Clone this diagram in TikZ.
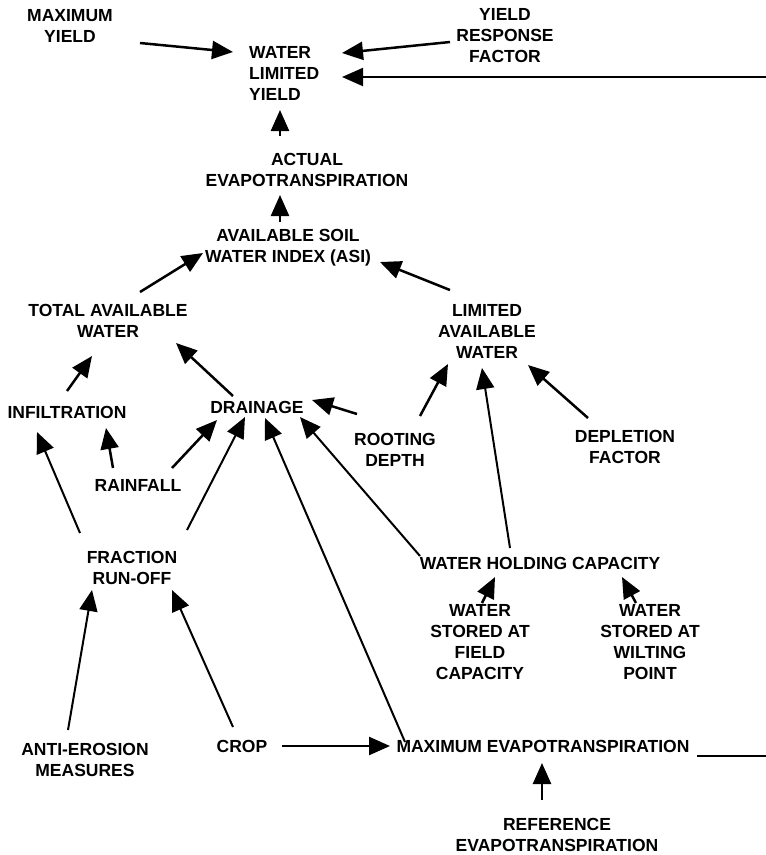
\documentclass[tikz,border=0pt]{standalone}
\usepackage{fontspec}
\setmainfont{Liberation Sans}
\usetikzlibrary{arrows.meta,calc}
\begin{document}
\begin{tikzpicture}[x=1pt,y=-1pt,
  lab/.style={inner sep=0pt,align=center,font=\bfseries\fontsize{17.5}{21}\selectfont},
  arr/.style={line width=2.5pt,-{Triangle[length=21pt,width=18pt]}},
  thinarr/.style={line width=2pt,-{Triangle[length=21pt,width=18pt]}},
  plain/.style={line width=2pt}]
\useasboundingbox (0,0) rectangle (766,855);
% nodes
\node[lab] (maxy) at (70,26) {MAXIMUM\\YIELD};
\node[lab] (yrf) at (505,36) {YIELD\\RESPONSE\\FACTOR};
\node[lab,align=left,anchor=west] (wly) at (249,73) {WATER\\LIMITED\\YIELD};
\node[lab] (aet) at (307,170) {ACTUAL\\EVAPOTRANSPIRATION};
\node[lab] (asi) at (288,248) {AVAILABLE SOIL\\WATER INDEX (ASI)};
\node[lab] (taw) at (108,321) {TOTAL AVAILABLE\\WATER};
\node[lab] (law) at (487,331) {LIMITED\\AVAILABLE\\WATER};
\node[lab] (inf) at (67,412) {INFILTRATION};
\node[lab] (dra) at (257,407) {DRAINAGE};
\node[lab] (root) at (395,450) {ROOTING\\DEPTH};
\node[lab] (depl) at (625,447) {DEPLETION\\FACTOR};
\node[lab] (rain) at (138,485) {RAINFALL};
\node[lab] (fro) at (132,568) {FRACTION\\RUN-OFF};
\node[lab] (whc) at (540,563) {WATER HOLDING CAPACITY};
\node[lab] (wsfc) at (480,642) {WATER\\STORED AT\\FIELD\\CAPACITY};
\node[lab] (wswp) at (650,642) {WATER\\STORED AT\\WILTING\\POINT};
\node[lab] (anti) at (85,760) {ANTI-EROSION\\MEASURES};
\node[lab] (crop) at (242,746) {CROP};
\node[lab] (maxet) at (543,746) {MAXIMUM EVAPOTRANSPIRATION};
\node[lab] (ref) at (557,835) {REFERENCE\\EVAPOTRANSPIRATION};
\coordinate (redgetop) at (766,77);
\coordinate (redgebot) at (766,756);
% connectors
\draw[arr] ($(maxy)+(70,17)$) -- ($(wly.west)+(-16,-21)$);
\draw[arr] ($(yrf)+(-55,6)$) -- ($(wly.west)+(93,-20)$);
\draw[thinarr] (redgetop) -- ($(wly.west)+(93,4)$);
\draw[arr] ($(aet)+(-27,-34)$) -- ($(wly.west)+(31,37)$);
\draw[arr] ($(asi)+(-8,-26)$) -- ($(aet)+(-27,25)$);
\draw[arr] ($(taw)+(32,-29)$) -- ($(asi)+(-85,5)$);
\draw[arr] ($(law)+(-37,-41)$) -- ($(asi)+(92,14)$);
\draw[arr] ($(inf)+(0,-21)$) -- ($(taw)+(-16,35)$);
\draw[arr] ($(dra)+(-24,-11)$) -- ($(taw)+(68,22)$);
\draw[arr] ($(root)+(-38,-36)$) -- ($(dra)+(55,-7)$);
\draw[arr] ($(root)+(25,-34)$) -- ($(law)+(-39,33)$);
\draw[arr] ($(depl)+(-37,-29)$) -- ($(law)+(41,34)$);
\draw[arr] ($(rain)+(-25,-17)$) -- ($(inf)+(39,16)$);
\draw[arr] ($(rain)+(34,-17)$) -- ($(dra)+(-40,13)$);
\draw[thinarr] ($(fro)+(-52,-35)$) -- ($(inf)+(-30,20)$);
\draw[thinarr] ($(fro)+(55,-38)$) -- ($(dra)+(-12,10)$);
\draw[thinarr] ($(whc)+(-120,-7)$) -- ($(dra)+(43,10)$);
\draw[thinarr] ($(whc)+(-30,-15)$) -- ($(law)+(-5,37)$);
\draw[thinarr] ($(maxet)+(-138,-4)$) -- ($(dra)+(8,11)$);
\draw[arr] ($(wsfc)+(2,-39)$) -- ($(whc)+(-45,14)$);
\draw[arr] ($(wswp)+(-14,-39)$) -- ($(whc)+(82,14)$);
\draw[thinarr] ($(anti)+(-17,-30)$) -- ($(fro)+(-40,22)$);
\draw[thinarr] ($(crop)+(-9,-19)$) -- ($(fro)+(40,22)$);
\draw[arr] ($(crop)+(40,0)$) -- ($(maxet)+(-153,0)$);
\draw[plain] ($(maxet)+(154,10)$) -- (redgebot);
\draw[arr] ($(ref)+(-15,-35)$) -- ($(maxet)+(-1,17)$);
\end{tikzpicture}
\end{document}
